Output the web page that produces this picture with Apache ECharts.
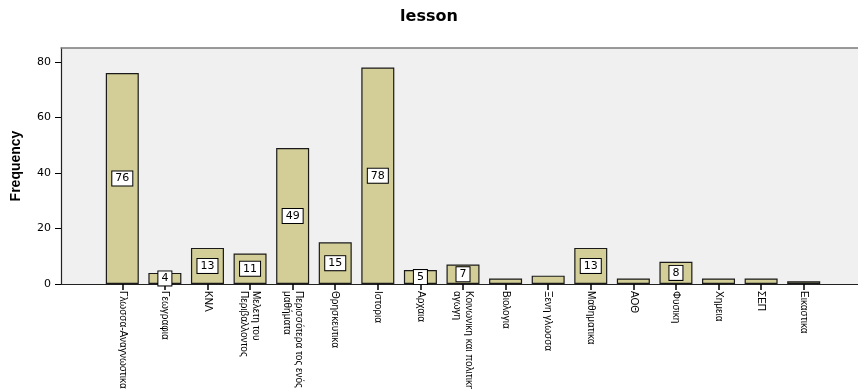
<!DOCTYPE html>
<html>
<head>
<meta charset="utf-8">
<script src="https://cdn.jsdelivr.net/npm/echarts@6/dist/echarts.min.js"></script>
<style>
  html, body { margin: 0; padding: 0; background: #ffffff; }
  #chart { width: 858px; height: 389px; }
</style>
</head>
<body>
<div id="chart"></div>
<script>
// Lesson categories and their frequencies
const lessons = [
  'Γλωσσα-Αναγνωστικα', 'Γεωγραφια', 'ΚΝΛ', 'Μελετη του\nΠεριβαλλοντος',
  'Περισσότερα τος ενός\nμαθήματα', 'Θρησκευτικα', 'Ιστορια', 'Αρχαια',
  'Κοινωνικη και πολιτικη\nαγωγη', 'Βιολογια', 'Ξενη γλωσσα', 'Μαθηματικα',
  'ΑΟΘ', 'Φυσικη', 'Χημεια', 'ΣΕΠ', 'Εικαστικα'
];
const frequency = [76, 4, 13, 11, 49, 15, 78, 5, 7, 2, 3, 13, 2, 8, 2, 2, 1];
// Which bars carry a value box
const showValue = [true, true, true, true, true, true, true, true, true, false, false, true, false, true, false, false, false];
const yTicks = [0, 20, 40, 60, 80];
const yMax = 85;

const sans = '"Liberation Sans", Arial, sans-serif';

const chart = echarts.init(document.getElementById('chart'), null, { renderer: 'canvas' });

chart.setOption({
  animation: false,
  backgroundColor: '#ffffff',
  title: {
    text: 'lesson',
    left: 'center',
    top: 4,
    textStyle: { fontFamily: 'DejaVu Sans', fontWeight: 'bold', fontSize: 16, color: '#000' }
  },
  grid: [
    // plotting frame
    { left: 61, right: 0, top: 48, bottom: 105, show: true, backgroundColor: '#f0f0f0', borderWidth: 0,
      outerBoundsMode: 'none', containLabel: false },
    // bar area
    { left: 101, right: 33, top: 48, bottom: 105, outerBoundsMode: 'none', containLabel: false }
  ],
  xAxis: [
    { gridIndex: 0, type: 'value', min: 0, max: 1, position: 'bottom',
      axisLine: { show: true, lineStyle: { color: '#222', width: 1.2 } },
      axisTick: { show: false }, axisLabel: { show: false }, splitLine: { show: false } },
    { gridIndex: 0, type: 'value', min: 0, max: 1, position: 'top',
      axisLine: { show: true, lineStyle: { color: '#7a7a7a', width: 1.5 } },
      axisTick: { show: false }, axisLabel: { show: false }, splitLine: { show: false } },
    { gridIndex: 1, type: 'category', data: lessons, boundaryGap: true,
      axisLine: { show: false },
      axisTick: { show: true, alignWithLabel: true, length: 6, lineStyle: { color: '#000', width: 1.5 } },
      axisLabel: {
        interval: 0, rotate: -90, margin: 7,
        fontFamily: sans, fontSize: 10, color: '#000', lineHeight: 12
      } }
  ],
  yAxis: [
    { gridIndex: 0, type: 'value', min: 0, max: yMax,
      name: 'Frequency', nameLocation: 'middle', nameGap: 38, nameRotate: 90,
      nameTextStyle: { fontFamily: sans, fontWeight: 'bold', fontSize: 14, color: '#000' },
      axisLine: { show: true, lineStyle: { color: '#222', width: 1.2 } },
      axisTick: { show: true, length: 6, customValues: yTicks, lineStyle: { color: '#000' } },
      axisLabel: { customValues: yTicks, margin: 10, fontFamily: 'DejaVu Sans', fontSize: 11, color: '#000' },
      splitLine: { show: false } },
    { gridIndex: 1, type: 'value', min: 0, max: yMax, show: false }
  ],
  series: [{
    type: 'bar',
    xAxisIndex: 2,
    yAxisIndex: 1,
    barWidth: 33,
    data: frequency.map((v, i) => ({
      value: v,
      label: { show: showValue[i] }
    })),
    itemStyle: { color: '#d3ce98', borderColor: '#1a1a1a', borderWidth: 1.2 },
    label: {
      position: 'inside',
      formatter: p => String(p.value),
      fontFamily: 'DejaVu Sans', fontSize: 11, color: '#000',
      backgroundColor: '#ffffff', borderColor: '#000', borderWidth: 1,
      padding: [2, 3, 1, 3]
    }
  }]
});
</script>
</body>
</html>
